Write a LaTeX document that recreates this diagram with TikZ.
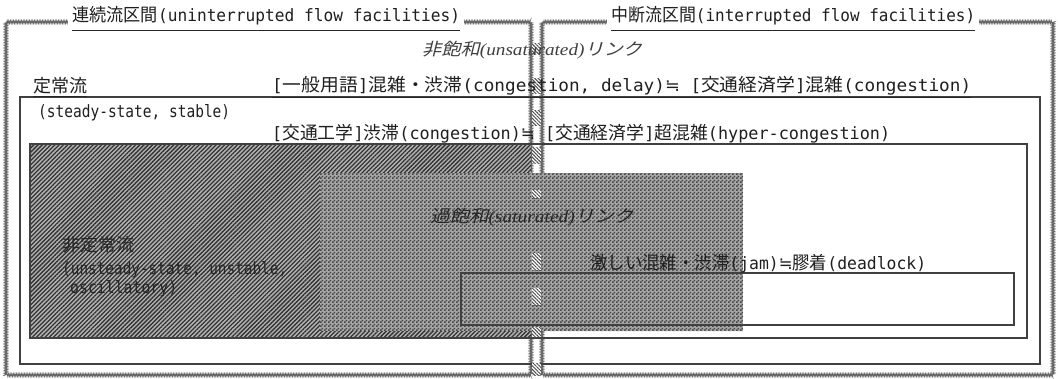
\documentclass[tikz,border=0pt]{standalone}
\usepackage{fontspec}
\usepackage{graphicx}
\usetikzlibrary{patterns,patterns.meta,decorations.pathmorphing}
\setmainfont{DejaVu Sans Mono}
\newfontfamily\jpf{Noto Sans CJK JP}[Scale=1.06]
\newfontfamily\jpitf{Noto Sans CJK JP}[FakeSlant=0.22]
\newfontfamily\latitf{Liberation Serif}
\newfontfamily\symf{DejaVu Sans}
\newcommand\J[1]{{\jpf #1}}
\newcommand\JI[1]{{\jpitf #1}}
\newcommand\LI[1]{{\latitf\itshape #1}}
\newcommand\apx{{\symf ≒}}
\newcommand\fitw[2]{\resizebox{#1pt}{\height}{#2}}
\pgfdeclarepatternformonly{mychecker}{\pgfpointorigin}{\pgfqpoint{4pt}{4pt}}{\pgfqpoint{4pt}{4pt}}{%
  \pgfpathrectangle{\pgfpointorigin}{\pgfqpoint{2pt}{2pt}}%
  \pgfpathrectangle{\pgfqpoint{2pt}{2pt}}{\pgfqpoint{2pt}{2pt}}%
  \pgfusepath{fill}}
\tikzset{
  region/.style={draw=black!60, line width=0.8pt, decorate,
    decoration={zigzag, segment length=1.6pt, amplitude=1.5pt}},
  boxline/.style={draw=black!75, line width=1.2pt},
  hyperline/.style={draw=black!75, line width=2.4pt},
  jamline/.style={draw=black!75, line width=1.4pt},
  uline/.style={draw=black!85, line width=1pt},
  lbl/.style={inner sep=0pt, anchor=west, text=black!88},
  hdr/.style={lbl, fill=white, inner xsep=4pt, inner ysep=2pt},
  darkfill/.style={preaction={fill=black!30},
    pattern={Lines[angle=45,distance=3pt,line width=1.3pt]}, pattern color=black!80},
  satfill/.style={preaction={fill=black!35}, pattern=mychecker, pattern color=black!72},
  striphatch/.style={preaction={fill=white},
    pattern={Lines[angle=-45,distance=2.5pt,line width=1pt]}, pattern color=black!70},
}
\begin{document}
\begin{tikzpicture}[x=1pt, y=-1pt, font=\fontsize{17}{19}\selectfont]
\useasboundingbox[fill=white] (0,0) rectangle (1058,378);

% region frames
\draw[region] (6,22) rectangle (531,375);
\draw[region] (542,22) rectangle (1053,375);

% steady-state box
\draw[boxline] (20,97) rectangle (1040,364);

% unsteady (dark hatched) part and hyper-congestion box
\path[darkfill] (30,144) rectangle (531,338);
\draw[hyperline] (30,144) rectangle (1027,338);

% saturated link
\path[satfill] (320,173) rectangle (743,331);

% boundary strip hatch blocks
\foreach \ya/\yb in {43/53,78/93,110/125,147/163,190/198,253/270,288/305,327/337,363/375}
  \path[striphatch] (532,\ya) rectangle (541,\yb);

% deadlock box
\draw[jamline] (461,273) rectangle (1014,325);

% headers
\node[hdr] (hdrL) at (68,16) {\fitw{388}{\J{連続流区間}(uninterrupted flow facilities)}};
\node[hdr] (hdrR) at (607,16) {\fitw{364}{\J{中断流区間}(interrupted flow facilities)}};
\draw[uline] ([yshift=-3pt,xshift=4pt]hdrL.south west) -- ([yshift=-3pt,xshift=-4pt]hdrL.south east);
\draw[uline] ([yshift=-3pt,xshift=4pt]hdrR.south west) -- ([yshift=-3pt,xshift=-4pt]hdrR.south east);

% labels
\node[lbl, text=black!75] (unsat) at (422,50) {\fitw{220}{\JI{非飽和}\LI{(unsaturated)}\JI{リンク}}};
\node[lbl] (teijo) at (33,86) {\J{定常流}};
\draw[uline] ([yshift=-2pt]teijo.south west) -- ([yshift=-2pt]teijo.south east);
\node[lbl] (gen) at (272,86) {\fitw{699}{[\J{一般用語}]\J{混雑・渋滞}(congestion, delay)\apx{} [\J{交通経済学}]\J{混雑}(congestion)}};
\draw[uline] ([yshift=-2pt]gen.south west) -- ([yshift=-2pt]gen.south east);
\node[lbl] (steady) at (38,113) {\fitw{192}{(steady-state, stable)}};
\node[lbl] (kotsu) at (272,134) {\fitw{618}{[\J{交通工学}]\J{渋滞}(congestion)\apx{} [\J{交通経済学}]\J{超混雑}(hyper-congestion)}};
\node[lbl, text=black!85] (sat) at (430,217) {\fitw{203}{\JI{過飽和}\LI{(saturated)}\JI{リンク}}};
\node[lbl, text=black!85] (hitei) at (62,245) {\J{非定常流}};
\node[lbl, text=black!85] (unst) at (62,270) {\fitw{225}{(unsteady-state, unstable,}};
\node[lbl, text=black!85] (osc) at (70,289) {\fitw{107}{oscillatory)}};
\node[lbl] (jam) at (590,264) {\fitw{336}{\J{激しい混雑・渋滞}(jam)\apx\J{膠着}(deadlock)}};
\end{tikzpicture}
\end{document}
